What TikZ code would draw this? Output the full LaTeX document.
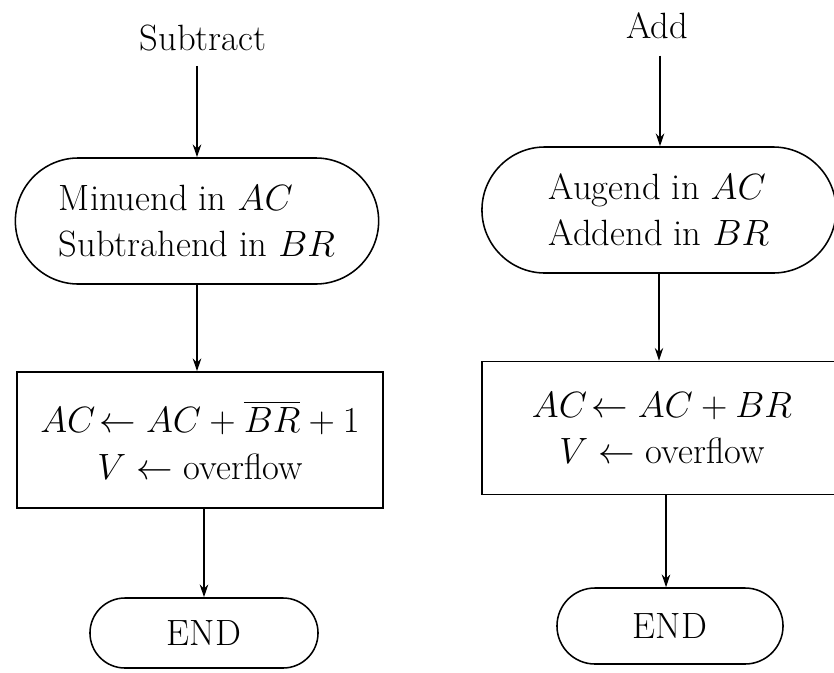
\documentclass[tikz,border=0pt]{standalone}
\usepackage{fix-cm}
\usepackage{fontspec}
\usepackage{amsmath}
\usetikzlibrary{arrows.meta,positioning,shapes.misc}

\tikzset{
  flowtext/.style={font=\fontsize{26}{33}\selectfont},
  termbox/.style={draw, rounded rectangle, line width=1.1pt, flowtext, align=left, inner sep=0pt},
  opbox/.style={draw, rectangle, line width=1.1pt, flowtext, align=center, inner sep=0pt},
  flowarrow/.style={-{Stealth[length=9pt,width=6pt]}, line width=0.9pt}
}

\begin{document}
\begin{tikzpicture}[x=0.025cm, y=-0.025cm]
  \useasboundingbox (0,0) rectangle (834,672);

  % Subtract flow
  \node[flowtext, anchor=base, inner sep=0pt] (sub) at (203,50) {Subtract};
  \node[termbox, minimum width=9.08cm, minimum height=3.15cm] (minu) at (197,221) {Minuend in $AC$\\Subtrahend in $BR$};
  \node[opbox, minimum width=9.15cm, minimum height=3.4cm] (subop) at (200,440) {$AC\!\leftarrow AC + \overline{BR} + 1$\\$V \leftarrow$ overflow};
  \node[termbox, align=center, minimum width=5.7cm, minimum height=1.75cm] (endl) at (204,633) {END};

  % Add flow
  \node[flowtext, anchor=base, inner sep=0pt] (add) at (657,38) {Add};
  \node[termbox, minimum width=8.85cm, minimum height=3.15cm] (aug) at (659,210) {Augend in $AC$\\Addend in $BR$};
  \node[opbox, minimum width=9.0cm, minimum height=3.33cm] (addop) at (662,428) {$AC\!\leftarrow AC + BR$\\$V \leftarrow$ overflow};
  \node[termbox, align=center, minimum width=5.65cm, minimum height=1.9cm] (endr) at (670,626) {END};

  % Arrows
  \draw[flowarrow] (sub.south) ++(-6,15) coordinate (subs) -- (subs |- minu.north);
  \draw[flowarrow] (minu.south) -- (minu.south |- subop.north);
  \draw[flowarrow] (subop.south -| endl.north) -- (endl.north);
  \draw[flowarrow] (add.south) ++(3,17) coordinate (adds) -- (adds |- aug.north);
  \draw[flowarrow] (aug.south) -- (aug.south |- addop.north);
  \draw[flowarrow] (addop.south) ++(4,0) coordinate (addops) -- (addops |- endr.north);
\end{tikzpicture}
\end{document}
